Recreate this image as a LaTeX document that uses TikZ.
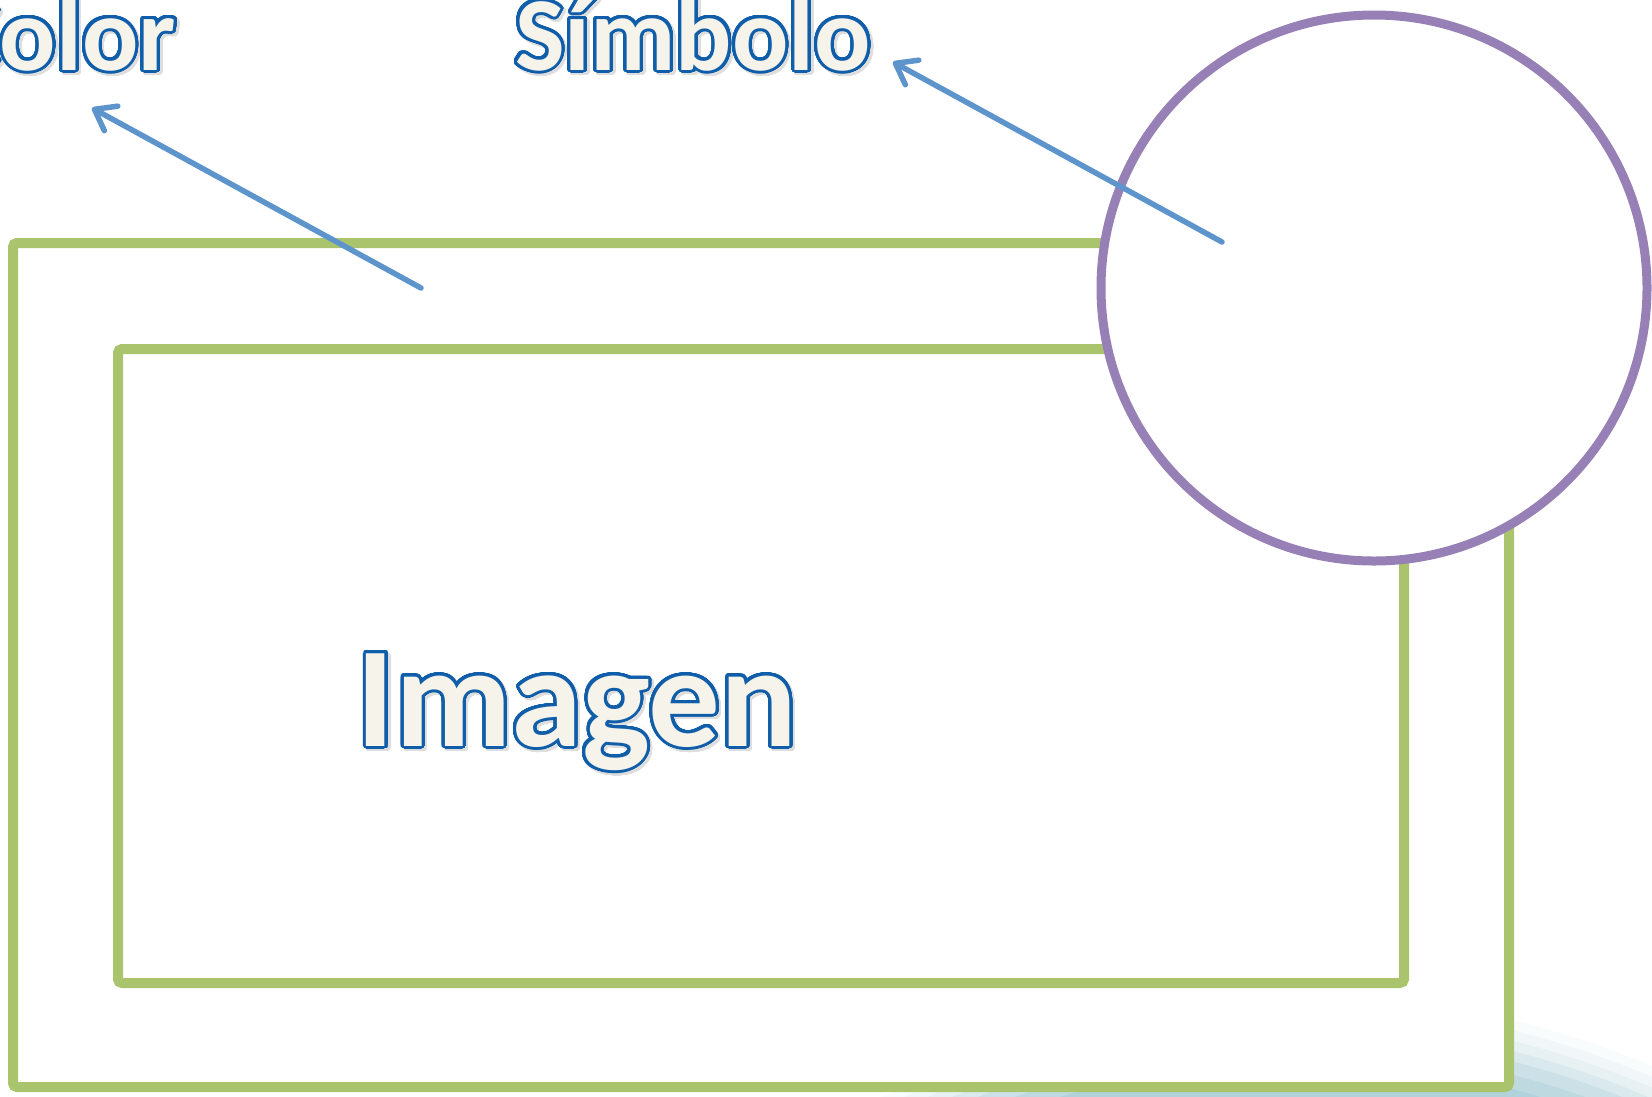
\documentclass[tikz,border=0pt]{standalone}
\usepackage{fontspec}
\setmainfont{Carlito}
\usepackage{contour}
\contourlength{3pt}
\contournumber{64}
\usetikzlibrary{arrows.meta}

\definecolor{framegreen}{RGB}{169,196,108}
\definecolor{ringpurple}{RGB}{151,128,182}
\definecolor{pointerblue}{RGB}{94,148,204}
\definecolor{textblue}{RGB}{16,94,170}
\definecolor{textcream}{RGB}{245,243,234}
\definecolor{textshade}{RGB}{222,222,222}
\definecolor{blobteal}{RGB}{140,188,200}

\newcommand{\outlined}[1]{%
  \rlap{\hspace{2.5pt}\raisebox{-2.5pt}{\textcolor{textshade}{\contour{textshade}{#1}}}}%
  \textcolor{textcream}{\contour{textblue}{#1}}}

\begin{document}
\begin{tikzpicture}[
    x=1pt, y=-1pt,
    frame/.style={draw=framegreen, line width=10pt, rounded corners=4pt, inner sep=0pt},
    ring/.style={draw=ringpurple, line width=9pt, fill=white, circle, inner sep=0pt},
    pointer/.style={draw=pointerblue, line width=5.5pt, line cap=round,
                    -{Straight Barb[length=19pt, width=28pt, line width=5.5pt, round]}},
    tag/.style={inner sep=0pt, font=\bfseries\fontsize{105}{115}\selectfont},
]
\useasboundingbox (0,0) rectangle (1652,1096);

% blob in the lower right corner
\begin{scope}
    \clip (0,0) rectangle (1652,1096);
    \foreach \r/\op in {905/0.05, 895/0.07, 885/0.1, 875/0.14, 865/0.18, 852/0.22, 838/0.25}
        \fill[blobteal, opacity=\op] (1300,1900) circle[radius=\r];
\end{scope}

% frames
\node[frame, fill=white, minimum width=1496pt, minimum height=844pt] (outer) at (761,665) {};
\node[frame, minimum width=1286pt, minimum height=634pt] (inner) at (761,666) {};
\node[ring, minimum size=546pt] (symring) at (1374,288) {};

% labels
\node[tag, anchor=base east] (color) at (176,70) {\outlined{Color}};
\node[tag, anchor=base] (simbolo) at (693,70) {\outlined{Símbolo}};
\node[tag, anchor=base, font=\bfseries\fontsize{143}{150}\selectfont] (imagen) at (577,746) {\outlined{Imagen}};

% pointers
\coordinate (colorFrom) at (421,288);
\coordinate (colorTip) at (92,108);
\coordinate (symFrom) at (1222,242);
\coordinate (symTip) at (893,62);
\draw[pointer] (colorFrom) -- (colorTip);
\draw[pointer] (symFrom) -- (symTip);
\end{tikzpicture}
\end{document}
